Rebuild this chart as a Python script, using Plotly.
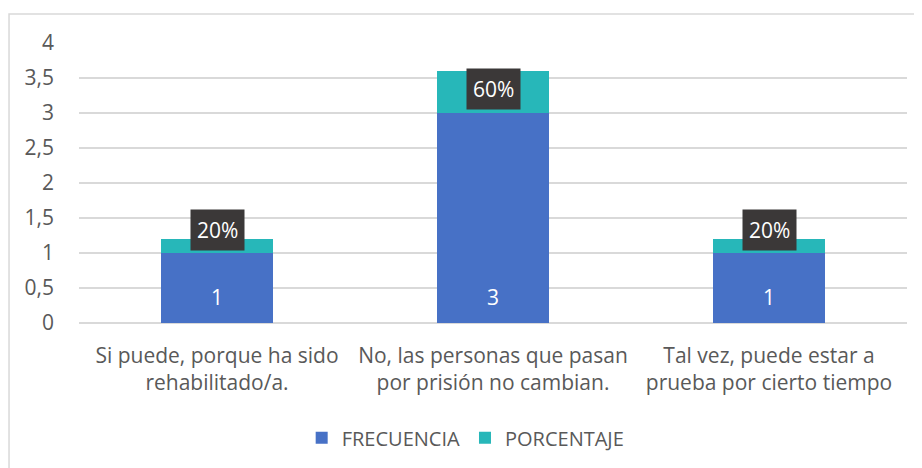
import plotly.graph_objects as go

categories = ["Si puede, porque ha sido<br>rehabilitado/a.",
              "No, las personas que pasan<br>por prisión no cambian.",
              "Tal vez, puede estar a<br>prueba por cierto tiempo"]
frecuencia = [1, 3, 1]
porcentaje = [0.2, 0.6, 0.2]
pct_labels = ["20%", "60%", "20%"]
y_ticks = [0, 0.5, 1, 1.5, 2, 2.5, 3, 3.5, 4]

FONT = "Open Sans"
GREY = "#595959"

fig = go.Figure()
fig.add_trace(go.Bar(
    x=categories, y=frecuencia, name="FRECUENCIA",
    marker=dict(color="#4771c6", line=dict(width=0)),
))
fig.add_trace(go.Bar(
    x=categories, y=porcentaje, name="PORCENTAJE",
    marker=dict(color="#27b7b9", line=dict(width=0)),
))

# frequency labels near the base of each bar
for c, f in zip(categories, frecuencia):
    fig.add_annotation(
        x=c, y=0, text=str(f), showarrow=False, yanchor="bottom", yshift=10,
        font=dict(color="white", size=21, family=FONT),
    )

# percentage labels in dark boxes at the top of each stack
px_per_unit = 280 / 4
for c, f, p, lab in zip(categories, frecuencia, porcentaje, pct_labels):
    shift = 30 if p * px_per_unit < 38 else 3
    fig.add_annotation(
        x=c, y=f + p, text=lab, showarrow=False, yanchor="top", yshift=shift,
        font=dict(color="white", size=21, family=FONT),
        bgcolor="#3b3838", borderpad=6,
    )

# outer chart border
fig.add_shape(type="rect", xref="paper", yref="paper",
              x0=-0.0845, x1=1.1, y0=-0.7, y1=1.1036,
              line=dict(color="#d9d9d9", width=1.5), fillcolor="rgba(0,0,0,0)",
              layer="below")

fig.update_layout(
    width=914, height=460,
    margin=dict(l=71, r=15, t=35, b=145, autoexpand=False),
    barmode="stack", bargap=0.594,
    separators=",.",
    plot_bgcolor="white", paper_bgcolor="white",
    font=dict(family=FONT, color=GREY, size=21),
    showlegend=True,
    legend=dict(orientation="h", x=0.467, xanchor="center", y=-0.41, yanchor="middle",
                font=dict(size=20, color=GREY, family=FONT), itemwidth=30,
                traceorder="normal"),
    xaxis=dict(showgrid=False, showline=False, ticks="", automargin=False,
               ticklabelstandoff=18, tickfont=dict(size=21, color=GREY)),
    yaxis=dict(range=[0, 4], tickvals=y_ticks, showgrid=True, gridcolor="#d9d9d9",
               gridwidth=1.5, zeroline=True, zerolinecolor="#d9d9d9", zerolinewidth=1.5,
               showline=False, ticks="", ticklabelstandoff=24, automargin=False,
               tickfont=dict(size=21, color=GREY)),
)

fig.write_html("out.html")
